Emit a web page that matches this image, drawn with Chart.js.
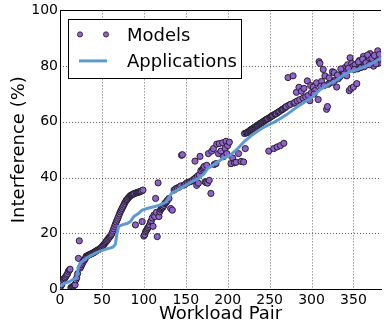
<!DOCTYPE html>
<html>
<head>
<meta charset="utf-8">
<title>Interference per workload pair</title>
<script src="https://cdn.jsdelivr.net/npm/chart.js@4.4.0/dist/chart.umd.min.js"></script>
<style>
  html, body { margin: 0; padding: 0; background: #fff; }
  canvas { display: block; }
</style>
</head>
<body>
<canvas id="chart-interference" width="386" height="326"></canvas>
<script>
// Predicted interference per workload pair (Models)
const modelX = [
  1, 2, 3, 4, 5, 6, 7, 8, 9, 10, 11, 12, 13, 14, 15, 16, 17, 18, 19, 20, 21, 22, 23, 24, 25, 26, 27, 28, 29, 30,
  31, 32, 33, 34, 35, 36, 37, 38, 39, 40, 41, 42, 43, 44, 45, 46, 47, 48, 49, 50, 51, 52, 53, 54, 55, 56, 57, 58, 59, 60,
  61, 62, 63, 64, 65, 66, 67, 68, 69, 70, 71, 72, 73, 74, 75, 76, 77, 78, 79, 80, 81, 82, 83, 84, 85, 86, 87, 88, 89, 90,
  91, 92, 93, 94, 95, 96, 97, 98, 99,
  100, 101, 102, 103, 104, 105, 106, 107, 108, 109, 110, 111, 112, 113, 114, 115, 116, 117, 118, 119, 120, 121, 122, 123, 124, 125, 126, 127, 128, 130, 132, 134, 136, 138, 140,
  142, 144, 145, 146, 148, 150, 152, 154, 156, 158, 160, 161, 162, 163, 164, 165, 166, 167, 168, 170, 171, 172, 173, 174, 175, 176, 177, 178, 180, 181, 183, 184, 186, 187, 189, 190, 192, 194, 195, 197, 198, 199, 200,
  202, 204, 206, 208, 210, 213, 216, 219, 220, 221, 222, 223, 224, 225, 226, 227, 228, 229, 230, 231, 232, 233, 234, 235, 236, 237, 238, 239, 240, 241, 242, 243, 244, 245, 246, 247, 248, 249,
  250, 251, 252, 253, 254, 255, 256, 257, 258, 259, 260, 261, 262, 263, 264, 265, 266, 267, 268, 269, 270, 272, 273, 275, 278, 279,
  280, 282, 283, 285, 286, 288, 290, 291, 293, 295, 296, 298, 299, 300, 302, 304, 306, 308, 309, 310, 312, 314, 316, 318, 319, 320, 322, 324, 325, 327, 328, 330, 332, 334, 336, 338, 340, 341, 343, 345,
  346, 347, 348, 349, 350, 352, 354, 355, 357, 358, 360, 362, 364, 366, 368, 370, 371, 373, 374, 376, 378, 379, 380, 382,
  303, 311, 315, 321, 326, 331, 335, 339, 342, 344, 351, 356, 359, 361, 363, 365, 367, 369, 372, 375, 377, 381
];
const modelY = [
  1, 1.5, 2.5, 3.3, 3.8, 4, 4.5, 5, 5.5, 6.3, 6.8, 7.1, 0.5, 0.4, 0.9, 1, 1.3, 1.5, 3.3, 4, 5.5, 11, 17.3, 7.5, 8, 8.7, 9.3, 10, 10.3, 10.8,
  11.7, 11.8, 12, 12.2, 12.3, 12.4, 12.6, 12.7, 12.9, 13, 13.2, 13.4, 13.6, 13.8, 14, 14.1, 14.3, 14.5, 14.8, 15.1, 15.5, 15.8, 16.2, 16.6, 17, 17.4, 17.8, 18.2, 18.6, 19,
  19.4, 20, 20.8, 21.6, 22.4, 23.2, 24, 24.7, 25.4, 26.2, 27, 27.7, 28.3, 28.9, 29.5, 30.1, 30.7, 31.3, 31.8, 32.1, 32.5, 32.9, 33.2, 33.5, 33.7, 33.8, 34, 34.2, 34.3, 23,
  34.5, 34.6, 34.7, 34.8, 34.9, 35, 35.2, 24.2, 35.5,
  19, 19.5, 20.5, 21, 21.5, 22, 22.5, 23, 24, 24.5, 25.5, 22.5, 26.5, 26, 32.5, 27.5, 18.8, 38.1, 26, 27.7, 28.5, 28.9, 29.2, 29.5, 30, 30.7, 31, 31.3, 31.8, 32.5, 28.9, 28.3, 35.5, 36, 36.3,
  36.5, 37, 48, 48.2, 37.3, 37.8, 38.2, 38.4, 38.6, 39, 39.5, 45.9, 40, 37.2, 40.5, 38, 41, 47.6, 42.5, 43, 43.5, 44, 38.5, 38.2, 44.4, 38, 48.6, 39, 34.3, 49.5, 50.4, 44.7, 45, 52, 48.6, 52.2, 49.5, 52.5, 47.5, 50.5, 53, 48.6, 51.5,
  52.7, 45, 47, 45.3, 45.5, 48.6, 45.8, 45.6, 55.8, 50.4, 56, 56.1, 56.3, 56.5, 56.8, 57, 57.2, 57.4, 57.6, 57.8, 58, 58.2, 58.4, 58.6, 58.8, 59, 59.3, 59.4, 59.6, 59.8, 60, 60.2, 60.4, 60.6, 60.8, 61, 61.2, 49.5,
  61.5, 61.7, 62, 62.1, 62.3, 50.4, 62.7, 62.8, 63, 51, 63.4, 63.6, 63.8, 51.5, 64.2, 64.4, 64.6, 52.3, 65, 65.2, 65.5, 75.9, 66, 66.3, 76.5, 66.7,
  67, 70.6, 67.5, 72.4, 68, 71, 68.5, 72, 69, 74.7, 69.5, 67.6, 73, 70.5, 72.5, 71.2, 74, 68, 81.6, 81, 74.5, 78.8, 76.5, 64.5, 65.5, 73.5, 74, 74.5, 78, 77.7, 75, 72.5, 75.5, 76.2, 77, 78, 79.5, 78, 80.5, 71.2,
  83, 72, 81, 79.8, 72.5, 80.5, 73.7, 79, 82, 80.2, 80.5, 83.5, 81, 80.8, 82, 84.5, 81, 83, 80, 82, 83.5, 85.5, 81, 82.5,
  70, 72.8, 73, 75.8, 74.2, 76.8, 79, 77.2, 76.5, 79.2, 78.8, 81.5, 79.5, 82.5, 79.8, 81.2, 84, 80.5, 82.8, 83.8, 80.8, 84.2
];

// Measured interference of the applications
const appX = [0, 5, 10, 15, 18, 20, 22, 25, 31, 40, 47, 55, 63, 66, 68, 70, 74, 80, 84, 88, 93, 98, 105, 112, 120, 127, 133, 140, 149, 157,
  165, 172, 176, 185, 195, 203, 212, 220, 230, 240, 248, 255, 262, 270, 282, 290, 300, 310, 318, 325, 330, 337, 345, 352, 358, 365, 372, 378, 383];
const appY = [1, 2, 2.5, 3.3, 3.6, 4.5, 8, 9.5, 11, 12.5, 13.5, 14.3, 15, 16, 20, 22.5, 23, 23.5, 24.2, 26, 27, 28.3, 29, 29.5, 30.3, 31.3, 34.3, 35.5, 37, 38.5,
  39.6, 41.5, 43.2, 45, 47, 48, 50.4, 53, 55.5, 57.5, 58.8, 59.8, 61, 62.5, 65.2, 66.8, 68.7, 71.5, 73, 74.2, 75, 76.5, 78, 78.5, 79.2, 80, 81, 82, 83];

const xTicks = [0, 50, 100, 150, 200, 250, 300, 350];
const yTicks = [0, 20, 40, 60, 80, 100];

const FONT = 'DejaVu Sans';
const PURPLE = '#9360d2';
const BLUE = '#5b9bd5';

const modelPoints = modelX.map((x, i) => ({ x: x, y: modelY[i] }));
const appPoints = appX.map((x, i) => ({ x: x, y: appY[i] }));

// dotted grid behind the data
const dottedGrid = {
  id: 'dottedGrid',
  beforeDatasetsDraw(chart) {
    const { ctx, chartArea, scales } = chart;
    ctx.save();
    ctx.strokeStyle = 'rgba(0,0,0,0.6)';
    ctx.lineWidth = 1;
    ctx.setLineDash([1, 2]);
    xTicks.forEach(v => {
      if (v === 0) return;
      const px = Math.round(scales.x.getPixelForValue(v)) + 0.5;
      ctx.beginPath();
      ctx.moveTo(px, chartArea.top);
      ctx.lineTo(px, chartArea.bottom);
      ctx.stroke();
    });
    yTicks.forEach(v => {
      if (v === 0 || v === 100) return;
      const py = Math.round(scales.y.getPixelForValue(v)) + 0.5;
      ctx.beginPath();
      ctx.moveTo(chartArea.left, py);
      ctx.lineTo(chartArea.right, py);
      ctx.stroke();
    });
    ctx.restore();
  }
};

// top spine + legend box in the upper left corner
const frameLegend = {
  id: 'frameLegend',
  afterDraw(chart) {
    const { ctx, chartArea } = chart;
    const L = chartArea.left, T = chartArea.top;
    ctx.save();
    ctx.strokeStyle = '#000';
    ctx.lineWidth = 1;
    ctx.beginPath();
    ctx.moveTo(L, Math.round(T) + 0.5);
    ctx.lineTo(chartArea.right, Math.round(T) + 0.5);
    ctx.stroke();

    const bx = L + 8, by = T + 9, bw = 173, bh = 59;
    ctx.fillStyle = '#fff';
    ctx.fillRect(bx, by, bw, bh);
    ctx.strokeRect(Math.round(bx) + 0.5, Math.round(by) + 0.5, bw, bh);

    // two markers for Models
    [L + 20, L + 46].forEach(mx => {
      ctx.beginPath();
      ctx.arc(mx, T + 24, 2.6, 0, Math.PI * 2);
      ctx.fillStyle = PURPLE;
      ctx.fill();
      ctx.strokeStyle = '#222';
      ctx.lineWidth = 0.8;
      ctx.stroke();
    });
    // line sample for Applications
    ctx.beginPath();
    ctx.strokeStyle = BLUE;
    ctx.lineWidth = 3;
    ctx.moveTo(L + 19, T + 50.5);
    ctx.lineTo(L + 47, T + 50.5);
    ctx.stroke();

    ctx.fillStyle = '#000';
    ctx.font = '18px "' + FONT + '"';
    ctx.textBaseline = 'alphabetic';
    ctx.textAlign = 'left';
    ctx.fillText('Models', L + 67, T + 30.3);
    ctx.fillText('Applications', L + 67, T + 57);
    ctx.restore();
  }
};

new Chart(document.getElementById('chart-interference'), {
  type: 'scatter',
  data: {
    datasets: [
      {
        label: 'Models',
        data: modelPoints,
        backgroundColor: PURPLE,
        borderColor: '#1a1a1a',
        borderWidth: 0.9,
        pointRadius: 3.1,
        order: 1
      },
      {
        label: 'Applications',
        data: appPoints,
        showLine: true,
        borderColor: BLUE,
        borderWidth: 3,
        pointRadius: 0,
        tension: 0,
        fill: false,
        order: 0
      }
    ]
  },
  options: {
    responsive: false,
    animation: false,
    layout: { padding: { top: 9, right: 0, bottom: 0, left: 0 } },
    plugins: {
      legend: { display: false },
      tooltip: { enabled: false }
    },
    scales: {
      x: {
        type: 'linear',
        min: 0,
        max: 383,
        afterBuildTicks: (scale) => { scale.ticks = xTicks.map(v => ({ value: v })); },
        afterFit: (scale) => { scale.height = 37; },
        grid: { display: false, drawTicks: false },
        border: { display: true, color: '#000', width: 1 },
        ticks: { color: '#000', padding: 3, font: { family: FONT, size: 14 } },
        title: {
          display: true,
          text: 'Workload Pair',
          color: '#000',
          font: { family: FONT, size: 18 },
          padding: { top: 0, bottom: 1 }
        }
      },
      y: {
        type: 'linear',
        min: 0,
        max: 100,
        afterBuildTicks: (scale) => { scale.ticks = yTicks.map(v => ({ value: v })); },
        afterFit: (scale) => { scale.width = 60; },
        grid: { display: false, drawTicks: false },
        border: { display: true, color: '#000', width: 1 },
        ticks: { color: '#000', padding: 2, font: { family: FONT, size: 14 } },
        title: {
          display: true,
          text: 'Interference (%)',
          color: '#000',
          font: { family: FONT, size: 18 },
          padding: { top: 9, bottom: 0 }
        }
      }
    }
  },
  plugins: [dottedGrid, frameLegend]
});
</script>
</body>
</html>
